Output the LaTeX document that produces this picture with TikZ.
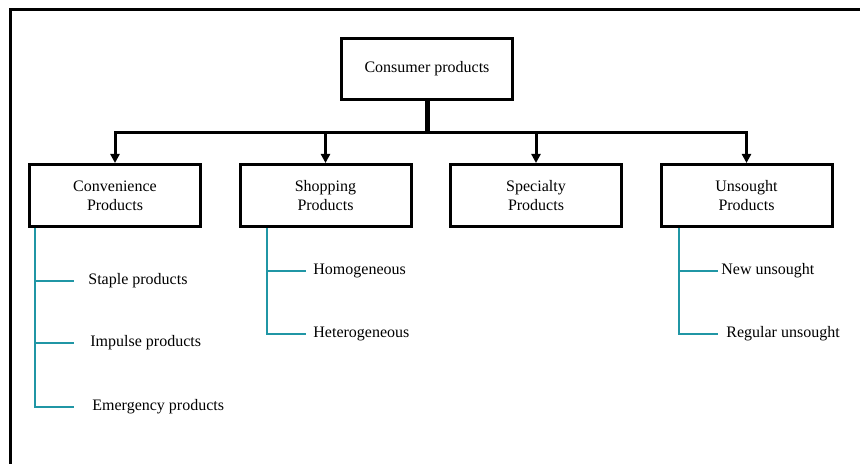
\documentclass[tikz,border=0pt]{standalone}
\usepackage{fontspec}
\setmainfont{Liberation Serif}
\usepackage{tikz}
\usetikzlibrary{arrows.meta, positioning}
\definecolor{branchteal}{RGB}{32,150,165}
\tikzset{
  rootbox/.style={
    draw, rectangle, line width=1.5pt,
    minimum width=85.5pt, minimum height=30.5pt, align=center
  },
  catbox/.style={
    draw, rectangle, line width=1.5pt,
    minimum width=85.5pt, minimum height=31pt, align=center % two lines
  },
  leaf/.style={
    anchor=west, inner sep=0pt
  },
  arrow/.style={
    -{Triangle[length=4.5pt,width=4.5pt]}, line width=1.5pt
  },
  branch/.style={
    draw=branchteal, line width=0.6pt
  }
}

\begin{document}
\begin{tikzpicture}[x=0.5pt, y=-0.5pt, font=\fontsize{8}{9.3}\selectfont]
  \useasboundingbox (0,0) rectangle (860,464);
  \draw[line width=1.5pt] (10,464) -- (10,10) -- (860,10);

  \node[rootbox] (consumer) at (427,69) {Consumer products};
  \node[catbox] (conv) at (115,195.5) {Convenience\\Products};
  \node[catbox, right=18.25pt of conv] (shop) {Shopping\\Products};
  \node[catbox, right=18.25pt of shop] (spec) {Specialty\\Products};
  \node[catbox, right=18.25pt of spec] (unsought) {Unsought\\Products};

  \coordinate (bus) at (427,133);
  \draw[line width=2.5pt] (consumer.south) -- (bus);
  \draw[arrow] (bus) -| (conv.north);
  \draw[arrow] (bus) -| (shop.north);
  \draw[arrow] (bus) -| (spec.north);
  \draw[arrow] (bus) -| (unsought.north);

  % sub-types
  \node[leaf] (staple) at (88,281) {Staple products};
  \node[leaf] (impulse) at (90,343) {Impulse products};
  \node[leaf] (emergency) at (92,407) {Emergency products};
  \node[leaf] (homog) at (313,271) {Homogeneous};
  \node[leaf] (heterog) at (313,334) {Heterogeneous};
  \node[leaf] (newuns) at (721,271) {New unsought};
  \node[leaf] (reguns) at (726,334) {Regular unsought};

  \coordinate (convbase) at ([xshift=3.5pt]conv.south west);
  \coordinate (shopbase) at ([xshift=14.25pt]shop.south west);
  \coordinate (unsbase) at ([xshift=9.75pt]unsought.south west);

  \draw[branch, shorten >=7pt] (convbase) |- (staple.west);
  \draw[branch, shorten >=8pt] (convbase) |- (impulse.west);
  \draw[branch, shorten >=9pt] (convbase) |- (emergency.west);
  \draw[branch, shorten >=3.5pt] (shopbase) |- (homog.west);
  \draw[branch, shorten >=3.5pt] (shopbase) |- (heterog.west);
  \draw[branch, shorten >=1.5pt] (unsbase) |- (newuns.west);
  \draw[branch, shorten >=4pt] (unsbase) |- (reguns.west);
\end{tikzpicture}
\end{document}
